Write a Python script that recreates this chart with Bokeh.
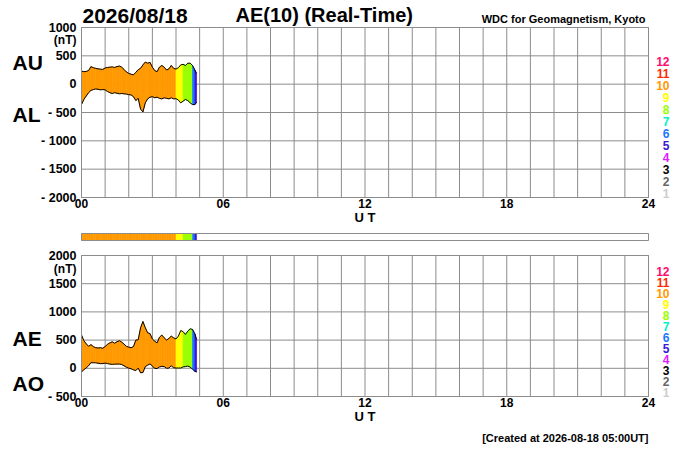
from bokeh.plotting import figure
from bokeh.models import FixedTicker, Label, Range1d, LinearAxis
from bokeh.embed import file_html
from bokeh.resources import INLINE

# ---------------- data ----------------
hours = [0.0, 0.1, 0.2, 0.3, 0.4, 0.5, 0.6, 0.7, 0.8, 0.9,
         1.0, 1.1, 1.2, 1.3, 1.4, 1.5, 1.6, 1.7, 1.8, 1.9,
         2.0, 2.1, 2.2, 2.3, 2.4, 2.5, 2.6, 2.7, 2.8, 2.9,
         3.0, 3.1, 3.2, 3.3, 3.4, 3.5, 3.6, 3.7, 3.8, 3.9,
         4.0, 4.1, 4.2, 4.3, 4.4, 4.5, 4.6, 4.7, 4.8, 4.87]

au = [230, 220, 225, 240, 310, 290, 280, 270, 265, 260,
      285, 295, 300, 305, 295, 310, 320, 300, 260, 215,
      190, 175, 165, 210, 255, 280, 340, 390, 370, 385,
      300, 240, 220, 300, 330, 300, 250, 270, 330, 280,
      265, 290, 340, 350, 330, 370, 370, 330, 250, 190]

al = [-360, -270, -210, -150, -110, -95, -85, -90, -100, -95,
      -100, -130, -150, -165, -150, -160, -170, -165, -170, -175,
      -185, -190, -220, -290, -250, -440, -490, -330, -260, -230,
      -220, -240, -230, -250, -260, -240, -250, -260, -240, -260,
      -255, -280, -330, -300, -270, -290, -330, -360, -360, -320]

ae = [590, 490, 435, 390, 420, 385, 365, 360, 365, 355,
      385, 425, 450, 470, 445, 470, 490, 465, 430, 390,
      375, 365, 385, 500, 505, 720, 830, 720, 630, 615,
      520, 480, 450, 550, 590, 540, 500, 530, 570, 540,
      520, 570, 670, 650, 600, 660, 700, 690, 610, 510]

ao = [-65, -25, 8, 45, 100, 98, 98, 90, 83, 83,
      93, 83, 75, 70, 73, 75, 75, 68, 45, 20,
      3, -8, -28, -40, 3, -80, -75, 30, 55, 78,
      40, 0, -5, 25, 35, 30, 0, 5, 45, 10,
      5, 5, 5, 25, 30, 40, 20, -15, -55, -65]

stations = [10, 10, 10, 10, 10, 10, 10, 10, 10, 10,
            10, 10, 10, 10, 10, 10, 10, 10, 10, 10,
            10, 10, 10, 10, 10, 10, 10, 10, 10, 10,
            10, 10, 10, 10, 10, 10, 10, 10, 10, 10,
            10, 9, 9, 9, 8, 8, 8, 8, 6, 5]

station_levels = [12, 11, 10, 9, 8, 7, 6, 5, 4, 3, 2, 1]
station_colors = ["#ff0d6e", "#ff2a00", "#ff9900", "#ffff00", "#99ff00", "#00f0c8",
                  "#1a78ff", "#3a16d8", "#e11bff", "#000000", "#666666", "#cccccc"]
color_of = dict(zip(station_levels, station_colors))

grid_hours = list(range(25))
x_ticks = [0, 6, 12, 18, 24]
x_tick_labels = ["00", "06", "12", "18", "24"]

top_ticks = [-2000, -1500, -1000, -500, 0, 500, 1000]
top_tick_labels = ["- 2000", "- 1500", "- 1000", "- 500", "0", "500", "1000"]
bot_ticks = [-500, 0, 500, 1000, 1500, 2000]
bot_tick_labels = ["- 500", "0", "500", "1000", "1500", "2000"]

date_text = "2026/08/18"
title_text = "AE(10) (Real-Time)"
source_text = "WDC for Geomagnetism, Kyoto"
created_text = "[Created at 2026-08-18 05:00UT]"

# ---------------- page geometry (pixels) ----------------
FONT = "Liberation Sans"
GRID = "#8c8c8c"
W, H = 700, 446
FX0, FX1 = 81, 648                 # panel left / right
TOP_T, TOP_B = 27, 197             # AU/AL panel top / bottom
STR_T, STR_B = 233, 240            # station strip
BOT_T, BOT_B = 255, 396            # AE/AO panel
TOP_MIN, TOP_MAX = -2000, 1000
BOT_MIN, BOT_MAX = -500, 2000

pxh = (FX1 - FX0) / 24.0


def yrange_for(ymin, ymax, ftop, fbot):
    k = (ymax - ymin) / (fbot - ftop)
    return Range1d(ymin - (H - fbot) * k, ymax + ftop * k)


p = figure(width=W, height=H, output_backend="svg", toolbar_location=None,
           x_range=Range1d(-FX0 / pxh, (W - FX0) / pxh),
           y_range=yrange_for(TOP_MIN, TOP_MAX, TOP_T, TOP_B),
           x_axis_location=None, y_axis_location=None,
           min_border_left=0, min_border_right=0, min_border_top=0, min_border_bottom=0)
p.extra_y_ranges = {"bot": yrange_for(BOT_MIN, BOT_MAX, BOT_T, BOT_B),
                    "strip": yrange_for(0, 1, STR_T, STR_B)}
p.outline_line_color = None
p.grid.visible = False
p.background_fill_color = "white"
p.border_fill_color = "white"


def put(px, py, text, size, color="black", align="left"):
    k = (TOP_MAX - TOP_MIN) / (TOP_B - TOP_T)
    p.add_layout(Label(x=(px - FX0) / pxh, y=TOP_MAX - (py - TOP_T) * k, text=text,
                       text_font=FONT, text_font_style="bold", text_font_size=f"{size}px",
                       text_align=align, text_baseline="middle", text_color=color))


def style_axis(ax, size):
    ax.axis_line_color = None
    ax.major_tick_line_color = None
    ax.minor_tick_line_color = None
    ax.major_tick_out = 0
    ax.major_tick_in = 0
    ax.major_label_text_font = FONT
    ax.major_label_text_font_style = "bold"
    ax.major_label_text_font_size = size
    ax.major_label_text_color = "black"


def panel(ymin, ymax, ticks, tick_labels, upper, lower, rname):
    # grid
    p.segment(x0=grid_hours, y0=ymin, x1=grid_hours, y1=ymax,
              line_color=GRID, line_width=1, y_range_name=rname)
    p.segment(x0=0, y0=ticks, x1=24, y1=ticks, line_color=GRID, line_width=1, y_range_name=rname)
    # coloured band between the two indices
    xs, ys, cols = [], [], []
    for i in range(len(hours) - 1):
        xs.append([hours[i], hours[i + 1], hours[i + 1], hours[i]])
        ys.append([upper[i], upper[i + 1], lower[i + 1], lower[i]])
        cols.append(color_of[stations[i + 1]])
    p.patches(xs, ys, fill_color=cols, line_color=cols, line_width=0.7, y_range_name=rname)
    p.line(hours, upper, line_color="black", line_width=1, y_range_name=rname)
    p.line(hours, lower, line_color="black", line_width=1, y_range_name=rname)
    p.quad(left=0, right=24, bottom=ymin, top=ymax, fill_color=None,
           line_color=GRID, line_width=1, y_range_name=rname)
    # axes
    ya = LinearAxis(y_range_name=rname, fixed_location=0, bounds=(ymin, ymax),
                    ticker=FixedTicker(ticks=ticks),
                    major_label_overrides=dict(zip(ticks, tick_labels)))
    style_axis(ya, "12.5px")
    ya.major_label_standoff = 5
    p.add_layout(ya, "left")
    xa = LinearAxis(y_range_name=rname, fixed_location=ymin, bounds=(0, 24),
                    ticker=FixedTicker(ticks=x_ticks),
                    major_label_overrides=dict(zip(x_ticks, x_tick_labels)))
    style_axis(xa, "12px")
    xa.major_label_standoff = 1
    p.add_layout(xa, "below")


panel(TOP_MIN, TOP_MAX, top_ticks, top_tick_labels, au, al, "default")
panel(BOT_MIN, BOT_MAX, bot_ticks, bot_tick_labels, ae, ao, "bot")

# station-count strip
strip_cols = [color_of[s] for s in stations[1:]]
p.quad(left=hours[:-1], right=hours[1:], bottom=0, top=1, fill_color=strip_cols,
       line_color=strip_cols, line_width=0.5, y_range_name="strip")
p.quad(left=0, right=24, bottom=0, top=1, fill_color=None, line_color=GRID,
       line_width=1, y_range_name="strip")

# texts
put(82, 14.5, date_text, 21)
put(235, 14.5, title_text, 20)
put(645, 18, source_text, 11, align="right")
put(12, 62, "AU", 21)
put(12, 114, "AL", 21)
put(76, 39, "(nT)", 12, align="right")
put(FX0 + 12 * pxh, 217, "U T", 13, align="center")
for k, (lvl, col) in enumerate(zip(station_levels, station_colors)):
    put(669, 61 + 12 * k, str(lvl), 12, color=col, align="right")

put(12, 338, "AE", 21)
put(12, 383, "AO", 21)
put(76, 268, "(nT)", 12, align="right")
put(FX0 + 12 * pxh, 416, "U T", 13, align="center")
for k, (lvl, col) in enumerate(zip(station_levels, station_colors)):
    put(669, 271 + 11 * k, str(lvl), 12, color=col, align="right")
put(648, 437, created_text, 11, align="right")

open("out.html", "w").write(file_html(p, INLINE))
